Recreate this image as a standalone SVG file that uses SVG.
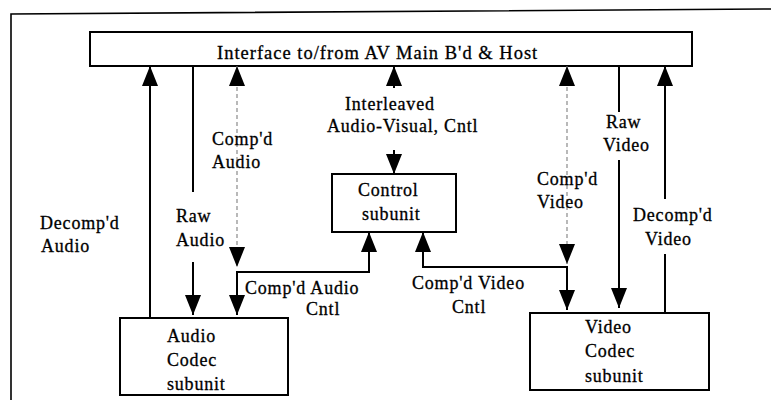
<svg xmlns="http://www.w3.org/2000/svg" width="771" height="400" viewBox="0 0 771 400">
  <style>
    .box { fill: #ffffff; stroke: #000000; stroke-width: 2; }
    .frame { fill: none; stroke: #000000; stroke-width: 1.6; }
    .wire { fill: none; stroke: #000000; stroke-width: 2; }
    .dash { fill: none; stroke: #8a8a8a; stroke-width: 1.2; stroke-dasharray: 4 3; }
    .lbl { font-family: "Liberation Serif", "Times New Roman", serif; font-size: 18px; letter-spacing: 0.8px; fill: #000000; stroke: #000000; stroke-width: 0.3px; }
    .title { font-size: 18.5px; letter-spacing: 1px; }
  </style>
  <defs>
    <marker id="ah" viewBox="0 0 20 16" refX="20" refY="8" markerWidth="20" markerHeight="16" markerUnits="userSpaceOnUse" orient="auto-start-reverse">
      <path d="M0,0 L20,8 L0,16 z" fill="#000000"/>
    </marker>
  </defs>

  <rect width="771" height="400" fill="#ffffff"/>

  <!-- page frame -->
  <path class="frame" d="M11,400 V14 L771,9"/>

  <g id="interface">
    <rect class="box" x="90" y="32" width="602" height="34"/>
    <text class="lbl title" x="217" y="59">Interface to/from AV Main B'd &amp; Host</text>
  </g>

  <g id="control">
    <rect class="box" x="332" y="174" width="124" height="58"/>
    <text class="lbl" x="358" y="196">Control</text>
    <text class="lbl" x="362" y="220">subunit</text>
  </g>

  <g id="audio-codec">
    <rect class="box" x="120" y="318" width="168" height="77"/>
    <text class="lbl" x="167" y="342">Audio</text>
    <text class="lbl" x="167" y="366">Codec</text>
    <text class="lbl" x="167" y="390">subunit</text>
  </g>

  <g id="video-codec">
    <rect class="box" x="530" y="313" width="179" height="77"/>
    <text class="lbl" x="585" y="333">Video</text>
    <text class="lbl" x="585" y="357">Codec</text>
    <text class="lbl" x="585" y="382">subunit</text>
  </g>

  <g id="connectors">
    <!-- audio side -->
    <path class="wire" d="M150,318 V66" marker-end="url(#ah)"/>
    <path class="wire" d="M193,66 V192"/>
    <path class="wire" d="M193,262 V315" marker-end="url(#ah)"/>
    <path class="dash" d="M237,66 V267" marker-start="url(#ah)" marker-end="url(#ah)"/>
    <path class="wire" d="M369,232 V272 H237 V315" marker-start="url(#ah)" marker-end="url(#ah)"/>

    <!-- control link -->
    <path class="wire" d="M394,88 V66" marker-end="url(#ah)"/>
    <path class="wire" d="M394,150 V174" marker-end="url(#ah)"/>

    <!-- video side -->
    <path class="dash" d="M567,66 V264" marker-start="url(#ah)" marker-end="url(#ah)"/>
    <path class="wire" d="M423,232 V267 H567 V310" marker-start="url(#ah)" marker-end="url(#ah)"/>
    <path class="wire" d="M619,66 V112"/>
    <path class="wire" d="M619,160 V308" marker-end="url(#ah)"/>
    <path class="wire" d="M665,199 V66" marker-end="url(#ah)"/>
    <path class="wire" d="M665,254 V313"/>

    <!-- connector labels -->
    <text class="lbl" x="40" y="229">Decomp'd</text>
    <text class="lbl" x="41" y="252">Audio</text>
    <text class="lbl" x="176" y="222">Raw</text>
    <text class="lbl" x="176" y="246">Audio</text>
    <text class="lbl" x="212" y="145">Comp'd</text>
    <text class="lbl" x="212" y="168">Audio</text>
    <text class="lbl" x="345" y="110">Interleaved</text>
    <text class="lbl" x="327" y="132">Audio-Visual, Cntl</text>
    <text class="lbl" x="245" y="294">Comp'd Audio</text>
    <text class="lbl" x="306" y="315">Cntl</text>
    <text class="lbl" x="412" y="289">Comp'd Video</text>
    <text class="lbl" x="452" y="313">Cntl</text>
    <text class="lbl" x="537" y="185">Comp'd</text>
    <text class="lbl" x="537" y="208">Video</text>
    <text class="lbl" x="606" y="128">Raw</text>
    <text class="lbl" x="603" y="151">Video</text>
    <text class="lbl" x="633" y="221">Decomp'd</text>
    <text class="lbl" x="645" y="245">Video</text>
  </g>
</svg>
